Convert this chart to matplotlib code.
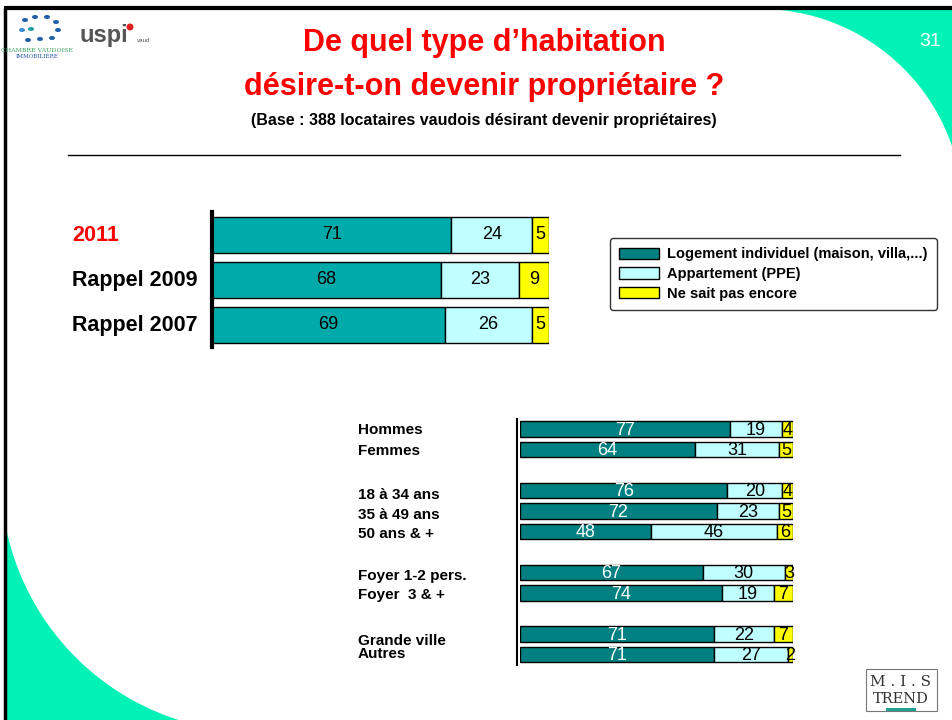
import numpy as np
import matplotlib
matplotlib.use("Agg")
import matplotlib.pyplot as plt
from matplotlib.patches import Polygon, Rectangle, Patch, Ellipse, Circle

# ---------------- data ----------------
top_categories = ["2011", "Rappel 2009", "Rappel 2007"]
top_logement = [71, 68, 69]
top_appart = [24, 23, 26]
top_nsp = [5, 9, 5]

bottom_categories = ["Hommes", "Femmes", None, "18 à 34 ans", "35 à 49 ans", "50 ans & +",
                     None, "Foyer 1-2 pers.", "Foyer  3 & +", None, "Grande ville", "Autres"]
bottom_logement = [77, 64, None, 76, 72, 48, None, 67, 74, None, 71, 71]
bottom_appart = [19, 31, None, 20, 23, 46, None, 30, 19, None, 22, 27]
bottom_nsp = [4, 5, None, 4, 5, 6, None, 3, 7, None, 7, 2]

series_names = ["Logement individuel (maison, villa,...)", "Appartement (PPE)", "Ne sait pas encore"]

# ---------------- style ----------------
FONT = ["Liberation Sans", "DejaVu Sans"]
plt.rcParams["font.family"] = FONT

W, H = 953, 720
fig = plt.figure(figsize=(W / 100, H / 100), dpi=100)
fig.patch.set_facecolor("white")


def box(x0, y0, x1, y1):
    return [x0 / W, 1 - y1 / H, (x1 - x0) / W, (y1 - y0) / H]


# background axes in pixel coordinates
bg = fig.add_axes([0, 0, 1, 1], zorder=0)
bg.set_xlim(0, W)
bg.set_ylim(H, 0)
bg.axis("off")

GREEN = "#00F2B6"
# top-right corner decoration
cx, cy, r = 760, 212, 203
t = np.linspace(0, np.pi / 2, 200)
arc = np.column_stack([cx + r * np.cos(t), cy - r * np.sin(t)])
bg.add_patch(Polygon(np.vstack([arc, [[cx - 5, -60], [W + 60, -60], [W + 60, cy]]]), closed=True, fc=GREEN, ec="none"))
# bottom-left corner decoration
cx2, cy2, r2 = 256, 477, 255
t2 = np.linspace(np.pi, 1.5 * np.pi, 200)
arc2 = np.column_stack([cx2 + r2 * np.cos(t2), cy2 - r2 * np.sin(t2)])
bg.add_patch(Polygon(np.vstack([arc2, [[cx2, H + 60], [-60, H + 60], [-60, cy2]]]), closed=True, fc=GREEN, ec="none"))
# white margin outside the frame
bg.add_patch(Rectangle((-10, -10), 14, H + 20, fc="white", ec="none"))
bg.add_patch(Rectangle((-10, -10), W + 20, 17, fc="white", ec="none"))
# frame
bg.plot([5, 5], [8, H + 5], color="black", lw=2.5, solid_capstyle="butt")
bg.plot([4, W + 5], [8, 8], color="black", lw=3, solid_capstyle="butt")

# titles
bg.text(484, 43, "De quel type d’habitation", ha="center", va="center", color="#FF0000",
        fontsize=22, fontweight="bold")
bg.text(484, 87, "désire-t-on devenir propriétaire ?", ha="center", va="center", color="#FF0000",
        fontsize=22, fontweight="bold")
bg.text(484, 121, "(Base : 388 locataires vaudois désirant devenir propriétaires)", ha="center",
        va="center", color="black", fontsize=11.5, fontweight="bold")
bg.plot([68, 900], [155, 155], color="black", lw=1)
bg.text(930, 42, "31", ha="center", va="center", color="white", fontsize=14)

# logos (approximation)
for (px, py, c) in [(25, 20, "#1f5fa8"), (35, 17, "#1f5fa8"), (47, 17, "#1f5fa8"), (56, 22, "#1f5fa8"),
                    (22, 30, "#3a8fd0"), (31, 29, "#20a0a0"), (58, 30, "#1f5fa8"), (28, 40, "#1f5fa8"),
                    (40, 39, "#1f5fa8"), (52, 38, "#1f5fa8")]:
    bg.add_patch(Ellipse((px, py), 6, 4, fc=c, ec="none"))
bg.text(37, 50, "CHAMBRE VAUDOISE", ha="center", va="center", color="#3aa060", fontsize=4.5, family="DejaVu Serif")
bg.text(37, 56, "IMMOBILIÈRE", ha="center", va="center", color="#2050a0", fontsize=4, family="DejaVu Serif")
bg.text(80, 42, "uspi", ha="left", va="baseline", color="#555555", fontsize=17, fontweight="bold")
bg.add_patch(Circle((130, 27), 3.5, fc="#e02020", ec="none"))
bg.text(137, 42, "vaud", ha="left", va="baseline", color="#555555", fontsize=4.5)

# MIS TREND logo
bg.add_patch(Rectangle((866, 669), 71, 42, fc="white", ec="#777777", lw=0.8))
bg.text(901, 682, "M . I . S", ha="center", va="center", fontsize=11, family="DejaVu Serif", color="#333333")
bg.text(901, 699, "TREND", ha="center", va="center", fontsize=10.5, family="DejaVu Serif", color="#333333")
bg.add_patch(Rectangle((886, 708), 30, 3, fc="#20a090", ec="none"))

# ---------------- top chart ----------------
TEAL_L = "#00AAAA"
CYAN = "#C0FFFF"
YEL = "#FFFF00"
TEAL_D = "#008080"

ax1 = fig.add_axes(box(212, 212, 549, 347), zorder=2)
y1 = np.arange(len(top_categories))
ax1.barh(y1, top_logement, height=0.8, color=TEAL_L, edgecolor="black", lw=1)
ax1.barh(y1, top_appart, left=top_logement, height=0.8, color=CYAN, edgecolor="black", lw=1)
left2 = [a_ + b_ for a_, b_ in zip(top_logement, top_appart)]
ax1.barh(y1, top_nsp, left=left2, height=0.8, color=YEL, edgecolor="black", lw=1)
ax1.set_xlim(0, 100)
ax1.set_ylim(2.5, -0.5)
for i in range(len(top_categories)):
    ax1.text(top_logement[i] / 2, i, str(top_logement[i]), ha="center", va="center", fontsize=13, color="black")
    ax1.text(top_logement[i] + top_appart[i] / 2, i, str(top_appart[i]), ha="center", va="center", fontsize=13, color="black")
    ax1.text(left2[i] + top_nsp[i] / 2, i, str(top_nsp[i]), ha="center", va="center", fontsize=13, color="black")
ax1.set_xticks([])
ax1.set_yticks([])
for s in ["top", "right", "bottom"]:
    ax1.spines[s].set_visible(False)
ax1.spines["left"].set_linewidth(3)
ax1.set_facecolor("none")
for i, cat in enumerate(top_categories):
    ax1.text(-140 / 3.37, i + 0.03, cat, ha="left", va="center", fontsize=15.5, fontweight="bold",
             color="#FF0000" if i == 0 else "black")

# ---------------- bottom chart ----------------
ax2 = fig.add_axes(box(520, 418.75, 793, 664.75), zorder=2)
rows = [i for i, v in enumerate(bottom_logement) if v is not None]
L = [bottom_logement[i] for i in rows]
A = [bottom_appart[i] for i in rows]
N = [bottom_nsp[i] for i in rows]
LA = [l + a_ for l, a_ in zip(L, A)]
ax2.barh(rows, L, height=0.78, color=TEAL_D, edgecolor="black", lw=1, label=series_names[0])
ax2.barh(rows, A, left=L, height=0.78, color=CYAN, edgecolor="black", lw=1, label=series_names[1])
ax2.barh(rows, N, left=LA, height=0.78, color=YEL, edgecolor="black", lw=1, label=series_names[2])
ax2.set_xlim(0, 100)
ax2.set_ylim(11.5, -0.5)
for k, rr in enumerate(rows):
    ax2.text(L[k] / 2, rr + 0.05, str(L[k]), ha="center", va="center", fontsize=13, color="white")
    ax2.text(L[k] + A[k] / 2, rr + 0.05, str(A[k]), ha="center", va="center", fontsize=13, color="black")
    ax2.text(LA[k] + N[k] / 2, rr + 0.05, str(N[k]), ha="center", va="center", fontsize=13, color="black")
ax2.set_xticks([])
ax2.set_yticks([])
for s in ["top", "right", "bottom"]:
    ax2.spines[s].set_visible(False)
ax2.spines["left"].set_linewidth(1.5)
ax2.spines["left"].set_position(("outward", 2))
ax2.set_facecolor("none")
label_offsets = [0.05, 0.05, 0, 0.2, 0.2, 0.1, 0, 0.15, 0.1, 0, 0.35, 0.0]
for i, cat in enumerate(bottom_categories):
    if cat is None:
        continue
    ax2.text(-162 / 2.73, i + label_offsets[i], cat, ha="left", va="center", fontsize=11, fontweight="bold",
             color="black")

# legend
handles = [Patch(fc=c, ec="black", lw=1) for c in (TEAL_D, CYAN, YEL)]
leg = fig.legend(handles, series_names, loc="upper left", bbox_to_anchor=(610 / W, 1 - 238 / H),
                 frameon=True, fancybox=True, edgecolor="black",
                 prop={"weight": "bold", "size": 10.5},
                 handlelength=2.7, handleheight=0.82, labelspacing=0.38, borderpad=0.65,
                 handletextpad=0.55, borderaxespad=0)
leg.get_frame().set_linewidth(1)

fig.savefig("out.png", dpi=100)
